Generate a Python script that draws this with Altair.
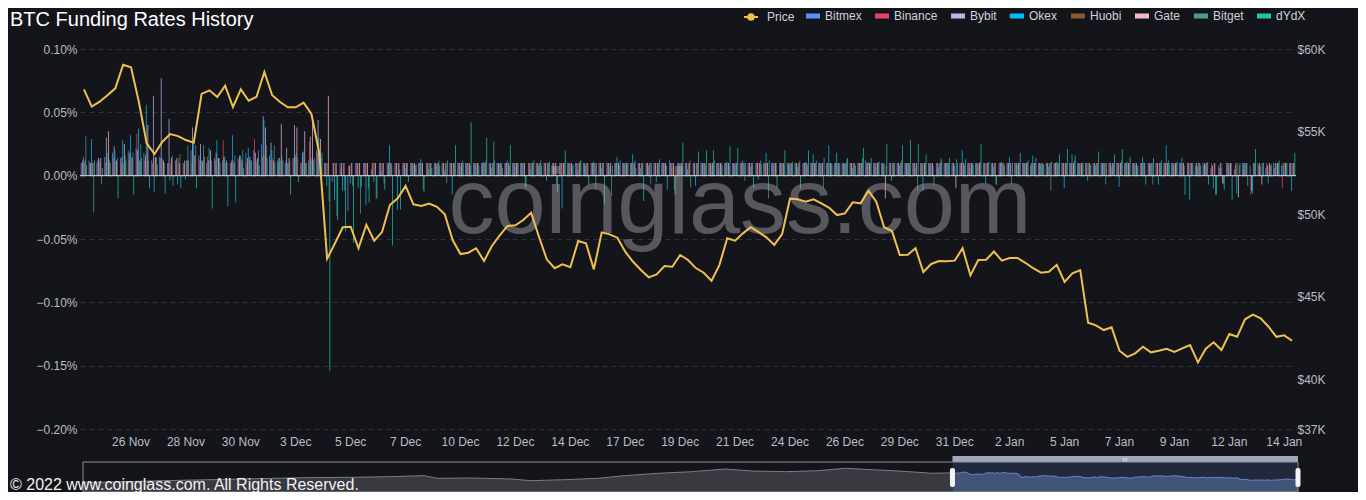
import altair as alt
import pandas as pd

TITLE = "BTC Funding Rates History"
WATERMARK = "coinglass.com"
COPYRIGHT = "\u00a9 2022 www.coinglass.com. All Rights Reserved."

EXCHANGES = ["Bitmex", "Binance", "Bybit", "Okex", "Huobi", "Gate", "Bitget", "dYdX"]
COLORS = ["#5b8ff9", "#e8436e", "#b9b5ea", "#00bff0", "#8c5a2e", "#f4b7c9", "#4e9a8f", "#21c4a4"]
GOLD = "#f0c04f"

# 8-hourly funding slots, Nov 24 2021 -> Jan 14 2022 (one slot absent in the source data)
slots = pd.date_range("2021-11-24 00:00", periods=156, freq="8h")
slots = slots[slots != pd.Timestamp("2021-12-28 00:00")]
TIMES = [s.strftime("%Y-%m-%dT%H:%M:%S") for s in slots]
X_TICKS = TIMES[6::7]

# funding rates, unit = 0.001 %
BITMEX = [10, 12, 10, 15, 18, 14, 20, 22, 18, 12,
          15, 10, 12, 10, 20, 16, 10, 14, 12, 10,
          14, 18, 20, 25, 16, 12, 10, 14, 10, 12,
          20, 10, -5, 10, -28, 10, 10, 5, 10, 10,
          10, 10, 10, 10, 10, 10, 10, 10, 10, 10,
          10, 10, 10, 10, 10, 10, 10, 10, 10, 10,
          8, 10, 10, 10, 10, 10, 10, 10, 10, 10,
          10, 10, 10, 10, 10, 12, 10, 10, 10, 10,
          10, 10, 10, 10, 10, 10, 10, 10, 10, 10,
          10, 10, 10, 10, 10, 10, 10, 10, 10, 10,
          12, 10, 10, 10, 10, 10, 10, 10, 10, 10,
          10, 10, 10, 10, 10, 10, 10, 10, 10, 10,
          10, 8, 10, 10, 10, 10, 10, 10, 10, 10,
          10, 10, 10, 10, 10, 10, 10, 10, 10, 10,
          10, 10, 8, 10, 6, 8, 10, 5, 10, 8,
          10, 6, 10, 8, 10]
BINANCE = [10, 10, 12, 10, 14, 10, 12, 33, 12, 10,
           14, 10, 12, 10, 10, 12, 15, 12, 28, 10,
           12, 10, 29, 15, 12, 10, 12, 14, 10, 27,
           18, 10, 10, 5, 8, 10, 10, 10, 10, 10,
           10, 10, 10, 10, 10, 10, 10, 10, 10, 10,
           10, 10, 10, 10, 10, 10, 10, 10, 10, 10,
           10, 10, 10, 10, 10, 10, 10, 10, 10, 10,
           10, 10, 10, 10, 10, 10, 10, 10, 10, 10,
           10, 10, 10, 10, 10, 10, 10, 10, 10, 10,
           10, 10, 10, 10, 10, 10, 10, 10, 10, 10,
           10, 10, 10, 10, 10, 10, 10, 10, 10, 10,
           10, 10, 10, 10, 10, 10, 10, 10, 10, 10,
           10, 10, 10, 10, 10, 10, 10, 10, 10, 10,
           10, 10, 10, 10, 10, 10, 10, 10, 10, 10,
           10, 10, 10, 8, 10, 6, 10, 8, 5, -15,
           8, 10, 6, -10, 10]
BYBIT = [12, 10, 14, 30, 23, 15, 18, 20, 16, 63,
         77, 45, 14, 12, 38, 25, 12, 18, 15, 12,
         16, 14, 18, 47, 26, 14, 22, 40, 18, 31,
         44, 10, 10, 10, 8, 10, 10, 10, 10, 10,
         10, 10, 10, 10, 10, 10, 10, 10, 10, 10,
         10, 10, 10, 10, 10, 10, 10, 10, 10, 10,
         10, 10, 10, 10, 10, 10, 10, 10, 10, 10,
         10, 10, 10, 10, 10, 10, 10, 10, 10, 10,
         10, 10, 10, 10, 10, 10, 10, 10, 10, 10,
         10, 10, 10, 10, 10, 10, 10, 10, 10, 10,
         10, 10, 10, 10, 10, 10, 10, 10, 10, 10,
         10, 10, 10, 10, 10, 10, 10, 10, 10, 10,
         10, 10, 10, 10, 10, 10, 10, 10, 10, 10,
         10, 10, 10, 10, 10, 10, 10, 10, 10, 10,
         10, 10, 10, 10, 8, 10, 10, 10, 10, -12,
         10, 8, 10, 10, 10]
OKEX = [15, 29, 12, 18, 20, 28, 32, 37, 56, -13,
        14, -4, -7, -3, 25, 12, 22, 28, 15, 32,
        16, 22, 12, 44, 20, 14, 10, 16, 19, 12,
        30, -8, -19, -12, -6, -10, -23, -5, 3, 24,
        -27, 6, 8, 13, 5, 9, 4, -15, 7, 10,
        8, 11, 6, 9, 12, 7, 10, 5, 8, -4,
        6, -26, 9, 4, 8, 11, 6, 7, 15, 9,
        17, 6, 8, -5, 10, 7, 9, 5, -8, 10,
        8, 6, 11, 9, 12, 7, -3, 18, 8, 10,
        9, 7, 11, 17, 8, 24, 18, 9, 6, 10,
        11, 7, 9, -4, 8, 10, 6, -12, 9, 7,
        10, 8, 20, 6, 9, -6, 7, 11, 15, 8,
        10, 16, 9, 7, 11, -10, 17, 9, -4, 8,
        10, 7, -9, 11, 8, 15, 9, -7, 24, 8,
        14, -19, 7, 9, -10, 6, 8, -14, 10, -14,
        7, -6, 9, 8, -12]
HUOBI = [10, 12, 10, 14, 12, 10, 15, 12, 18, 14,
         12, 10, 14, 12, 16, 10, 12, 14, 10, 12,
         14, 12, 10, 16, 14, 12, 10, 18, 12, 14,
         16, 10, 10, 10, 10, 10, 10, 10, 10, 10,
         10, 10, 10, 10, 10, 10, 10, 10, 10, 10,
         10, 10, 10, 10, 10, 10, 10, 10, 10, 10,
         10, 10, 10, 10, 10, 10, 10, 10, 10, 10,
         10, 10, 10, 10, 10, 10, 10, 10, 10, 10,
         10, 10, 10, 10, 10, 10, 10, 10, 10, 10,
         10, 10, 10, 10, 10, 10, 10, 10, 10, 10,
         10, 10, 10, 10, 10, 10, 10, 10, 10, 10,
         10, 10, 10, 10, 10, 10, 10, 10, 10, 10,
         10, 10, 10, 10, 10, 10, 10, 10, 10, 10,
         10, 10, 10, 10, 10, 10, 10, 10, 10, 10,
         10, 10, 10, 10, 10, 10, 10, 10, 10, 10,
         10, 10, 10, 10, 10]
GATE = [12, 10, 14, 35, 12, 25, 14, 12, 40, 15,
        12, 14, 10, 12, 16, 12, 20, 14, 12, 10,
        12, 15, 14, 38, 12, 41, 14, 38, 35, 46,
        29, 63, 10, 10, 10, 10, 10, 10, 10, 10,
        10, 10, 10, 10, 10, 10, 10, 10, 10, 10,
        10, 10, 10, 10, 10, 10, 10, 10, 10, 10,
        10, 10, 10, 10, 10, 10, 10, 10, 10, 10,
        10, 10, 10, 10, 10, 10, 10, 10, 10, 10,
        10, 10, 10, 10, 10, 10, 10, 10, 10, 10,
        10, 10, 10, 10, 10, 10, 10, 10, 10, 10,
        10, 10, -18, 10, 10, 10, 10, 10, 10, 10,
        10, -10, 10, 10, 10, 10, 10, 10, 10, 10,
        10, 10, 10, 10, 10, 10, 10, 10, 10, 10,
        10, 10, 10, 10, 10, 10, 10, 10, 10, 10,
        10, 10, 10, 10, 10, -6, 10, -17, 10, 10,
        -7, 10, 10, 10, 10]
BITGET = [31, -29, -7, 12, 14, 16, 18, 25, 12, 14,
          10, 16, 17, 24, 24, 24, 12, 14, 10, 16,
          20, 12, 20, 24, 24, 15, 12, 14, 10, 12,
          14, -20, -32, -12, -8, -30, -10, -18, -6, 8,
          5, 10, 8, -11, 10, 12, -6, 10, 12, 8,
          10, 12, 27, 10, 8, 10, -9, 10, 12, 10,
          -7, 10, 8, 12, 10, -11, 10, -16, 8, 10,
          12, 10, -7, 10, 8, -11, 10, 12, 10, 8,
          20, 10, 8, 10, -4, 10, 12, -18, 10, 8,
          10, 12, 8, 10, -10, 10, 8, 13, 10, 14,
          10, 11, 8, 10, 12, 10, -12, 10, 8, 14,
          10, 13, 8, 10, 11, 10, -7, 10, -6, 10,
          11, 10, 8, -12, 10, 10, 12, 10, 8, 10,
          -7, 10, 12, 10, 8, 10, -7, 10, 12, 10,
          8, 10, 10, 11, -15, -7, 10, 8, 10, 10,
          10, 8, 10, 10, 10]
DYDX = [8, 12, 6, 10, -18, 12, -15, 14, -10, 9,
        -14, -8, -10, 12, -10, 15, -26, 10, -24, -21,
        6, 12, 8, 14, 10, 12, -15, -5, 10, 14,
        18, -154, -35, -44, -53, -9, -21, -18, -11, -55,
        -27, -5, 9, -13, 6, 8, 12, 24, 10, 42,
        8, 30, 12, 6, 24, 10, -10, 12, 8, 11,
        -13, 20, 9, 12, -7, 10, -22, 8, 12, 10,
        6, -20, 10, 13, -11, -15, 26, -9, 19, 20,
        12, 8, 23, 22, 10, -10, 9, 12, -10, 20,
        11, -10, 20, 12, 14, 9, 10, 14, 8, 22,
        14, 11, 25, 10, 24, 28, 25, 17, -8, 12,
        14, 10, 13, 9, 25, 11, -7, 8, 10, 18,
        12, 14, 9, 11, 17, 21, 16, 10, 9, 19,
        10, 17, 21, 15, 8, -7, 14, 12, 10, 11,
        -15, 10, 8, -7, -15, -11, -19, 10, -8, 21,
        10, 9, 12, 10, 18]

PRICE = [57560, 56510, 56810, 57200, 57620, 59050, 58890, 56810, 54290, 53640,
         54390, 54850, 54730, 54490, 54330, 57280, 57500, 57090, 57780, 56490,
         57560, 56870, 57110, 58610, 57200, 56790, 56470, 56470, 56750, 56070,
         53690, 47310, 48240, 49210, 49240, 47940, 49360, 48400, 48920, 50560,
         50960, 51710, 50600, 50500, 50640, 50450, 49990, 48440, 47590, 47670,
         47940, 47170, 48080, 48720, 49290, 49330, 49650, 50090, 48640, 47270,
         46730, 46970, 46790, 48380, 48240, 46660, 48900, 48780, 48580, 47730,
         47120, 46620, 46180, 46360, 46860, 46820, 47530, 47230, 46740, 46460,
         45970, 46920, 48540, 48400, 48840, 49210, 48920, 48600, 48140, 48800,
         50940, 50900, 50760, 50900, 50660, 50390, 49950, 50050, 50720, 50660,
         51420, 50760, 49210, 48980, 47530, 47550, 47940, 46500, 46990, 47170,
         47150, 47190, 47940, 46300, 47230, 47250, 47740, 47190, 47350, 47350,
         47060, 46730, 46460, 46520, 46940, 45900, 46420, 46620, 43430, 43270,
         42990, 43150, 41740, 41370, 41580, 41980, 41640, 41740, 41860, 41660,
         41880, 42080, 41030, 41860, 42250, 41780, 42750, 42580, 43640, 43920,
         43700, 43190, 42580, 42670, 42340]

# longer price history shown in the zoom slider
MINI_DATES = ["2021-07-17", "2021-07-23", "2021-07-29", "2021-08-05", "2021-08-12",
              "2021-08-19", "2021-08-26", "2021-09-01", "2021-09-06", "2021-09-08",
              "2021-09-13", "2021-09-19", "2021-09-22", "2021-09-27", "2021-10-02",
              "2021-10-06", "2021-10-11", "2021-10-16", "2021-10-21", "2021-10-25",
              "2021-10-30", "2021-11-04", "2021-11-08", "2021-11-12", "2021-11-16",
              "2021-11-21", "2021-11-24"]
MINI_PRICE = [36200, 38300, 40500, 42700, 44800, 47000, 47800, 49200, 51400, 45700,
              46300, 44200, 40500, 42700, 45700, 51400, 56500, 60000, 65800, 61500,
              60000, 62200, 67400, 64300, 61500, 56500, 57560]

Y_TICKS = [-0.2, -0.15, -0.1, -0.05, 0, 0.05, 0.1]
P_TICKS = [37000, 40000, 45000, 50000, 55000, 60000]

RATES = {"Bitmex": BITMEX, "Binance": BINANCE, "Bybit": BYBIT, "Okex": OKEX,
         "Huobi": HUOBI, "Gate": GATE, "Bitget": BITGET, "dYdX": DYDX}

rows = []
for ex, vals in RATES.items():
    assert len(vals) == len(TIMES), (ex, len(vals))
    for t, v in zip(TIMES, vals):
        rows.append({"t": t, "ex": ex, "rate": v / 1000})
df_bars = pd.DataFrame(rows)
assert len(PRICE) == len(TIMES)
df_price = pd.DataFrame({"t": TIMES, "price": PRICE, "series": "Price"})

BG = "#14151a"
FONT = "Liberation Sans"
LABEL = "#b9bdc5"

xscale = alt.Scale(type="band", paddingInner=0.2, paddingOuter=0.1)
xaxis = alt.Axis(values=X_TICKS, labelExpr="timeFormat(toDate(datum.value), '%-d %b')",
                 labelAngle=0, ticks=False, tickSize=0, domain=False, grid=False,
                 labelPadding=7, title=None)

bars = alt.Chart(df_bars).mark_bar(opacity=0.92).encode(
    x=alt.X("t:O", scale=xscale, axis=xaxis),
    xOffset=alt.XOffset("ex:N", sort=EXCHANGES, scale=alt.Scale(domain=EXCHANGES)),
    y=alt.Y("rate:Q", scale=alt.Scale(domain=[-0.2, 0.1], nice=False),
            axis=alt.Axis(orient="left", values=Y_TICKS,
                          labelExpr="format(datum.value, '.2f') + '%'",
                          grid=True, gridDash=[5, 4], gridColor="#30323a",
                          domain=False, ticks=False, labelPadding=3, title=None)),
    color=alt.Color("ex:N", sort=EXCHANGES,
                    scale=alt.Scale(domain=EXCHANGES, range=COLORS),
                    legend=alt.Legend(title=None, orient="none", legendX=726, legendY=-40,
                                      direction="horizontal", columns=8,
                                      symbolType="M-1,-0.36L1,-0.36L1,0.36L-1,0.36Z",
                                      symbolSize=196, symbolStrokeWidth=0, symbolOpacity=1,
                                      labelOffset=5, columnPadding=13)),
)
zero = alt.Chart(pd.DataFrame({"z": [0.0]})).mark_rule(color="#d9d9dc", strokeWidth=1).encode(
    y=alt.Y("z:Q"))
bars_layer = alt.layer(bars, zero)

watermark = alt.Chart(pd.DataFrame({"w": [WATERMARK]})).mark_text(
    font=FONT, fontSize=92, color="#a8a8ae", opacity=0.45, align="center",
    baseline="alphabetic").encode(text="w:N", x=alt.value(660), y=alt.value(184))

price_icon = ("M-1,0L1,0M0.4,0A0.4,0.4,0,1,1,-0.4,0A0.4,0.4,0,1,1,0.4,0Z")
line = alt.Chart(df_price).mark_line(strokeWidth=2).encode(
    x=alt.X("t:O", scale=xscale, axis=xaxis),
    y=alt.Y("price:Q", scale=alt.Scale(domain=[37000, 60000], nice=False, zero=False),
            axis=alt.Axis(orient="right", values=P_TICKS,
                          labelExpr="'$' + (datum.value / 1000) + 'K'",
                          grid=False, domain=False, ticks=False, labelPadding=1, title=None)),
    color=alt.Color("series:N", scale=alt.Scale(domain=["Price"], range=[GOLD]),
                    legend=alt.Legend(title=None, orient="none", legendX=663, legendY=-40,
                                      symbolType=price_icon, symbolSize=196,
                                      symbolStrokeWidth=2, symbolFillColor=GOLD,
                                      labelOffset=8)),
)
main = alt.layer(bars_layer, watermark, line).resolve_scale(y="independent", color="independent")

# ---- zoom slider ----
HIST_START = "2021-07-17T00:00:00"
sxs = alt.Scale(domain=[alt.DateTime(year=2021, month=7, date=17),
                        alt.DateTime(year=2022, month=1, date=14, hours=16)],
                range=[3, 1218])
sys_ = alt.Scale(domain=[16000, 81000], range=[443, 413], nice=False, zero=False)

hist_df = pd.DataFrame({"d": MINI_DATES, "p": MINI_PRICE})
win_df = pd.DataFrame({"d": TIMES, "p": PRICE})
win_rect = pd.DataFrame({"s": [TIMES[0]], "e": [TIMES[-1]]})
frame_df = pd.DataFrame({"s": [HIST_START], "e": [TIMES[-1]]})
handle_df = pd.DataFrame({"s": [TIMES[0], TIMES[-1]]})


def sx(field):
    return alt.X(field, scale=sxs, axis=None)


sy = alt.Y("p:Q", scale=sys_, axis=None)

hist_area = alt.Chart(hist_df).mark_area(color="#393a41").encode(
    x=sx("d:T"), y=sy, y2=alt.datum(16000))
hist_line = alt.Chart(hist_df).mark_line(color="#7c7e85", strokeWidth=1).encode(
    x=sx("d:T"), y=sy)
win_area = alt.Chart(win_df).mark_area(color="#3d4963").encode(
    x=sx("d:T"), y=sy, y2=alt.datum(16000))
win_line = alt.Chart(win_df).mark_line(color="#6d8bd0", strokeWidth=1).encode(
    x=sx("d:T"), y=sy)
overlay = alt.Chart(win_rect).mark_rect(color="#5b7ccc", opacity=0.2).encode(
    x=sx("s:T"), x2="e:T", y=alt.value(413), y2=alt.value(443))
topbar = alt.Chart(win_rect).mark_rect(color="#9ea7bc").encode(
    x=sx("s:T"), x2="e:T", y=alt.value(407), y2=alt.value(413))
grip = alt.Chart(pd.DataFrame({"g": ["III"]})).mark_text(
    fontSize=6, color="#eef1f7", font=FONT).encode(
    text="g:N", x=alt.value(1045), y=alt.value(410.5))
frame = alt.Chart(frame_df).mark_rect(fillOpacity=0, stroke="#8d919b", strokeWidth=1).encode(
    x=sx("s:T"), x2="e:T", y=alt.value(413), y2=alt.value(443))
handles = alt.Chart(handle_df).mark_tick(color="#f4f4f4", thickness=5, size=19,
                                         cornerRadius=2, opacity=1).encode(
    x=sx("s:T"), y=alt.value(428.5))
slider = alt.layer(hist_area, hist_line, win_area, win_line, overlay, topbar, grip, frame, handles)

copyright = alt.Chart(pd.DataFrame({"c": [COPYRIGHT]})).mark_text(
    font=FONT, fontSize=16, color="#f2f2f2", align="left", baseline="middle").encode(
    text="c:N", x=alt.value(-70), y=alt.value(436))
title = alt.Chart(pd.DataFrame({"s": [TITLE]})).mark_text(
    font=FONT, fontSize=20, color="#ffffff", align="left", baseline="middle").encode(
    text="s:N", x=alt.value(-70), y=alt.value(-29.5))

chart = alt.layer(main, slider, copyright, title).resolve_scale(
    x="independent", y="independent", color="independent"
).properties(
    width=1216, height=380, background=BG,
    padding={"left": 72, "top": 41, "right": 62, "bottom": 63},
    autosize=alt.AutoSizeParams(type="none"),
).configure_view(strokeWidth=0).configure_axis(
    labelFont=FONT, labelFontSize=12, labelColor=LABEL
).configure_legend(
    labelFont=FONT, labelFontSize=12, labelColor="#cfd2d9"
)

chart.save("out.html", embed_options={"renderer": "svg", "actions": False})
